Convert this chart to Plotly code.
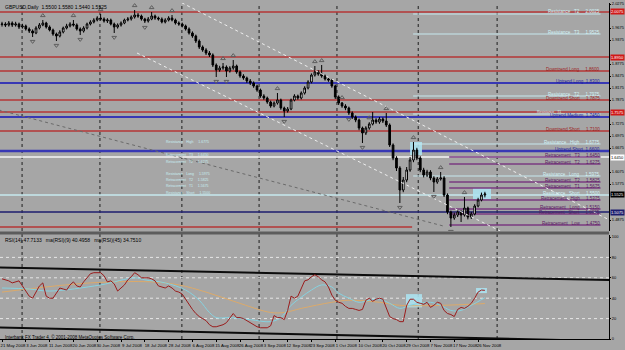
import plotly.graph_objects as go

# ---------------- data ----------------
date_labels = ["21 May 2008", "3 Jun 2008", "11 Jun 2008", "20 Jun 2008", "30 Jun 2008",
               "9 Jul 2008", "18 Jul 2008", "28 Jul 2008", "6 Aug 2008", "15 Aug 2008",
               "26 Aug 2008", "3 Sep 2008", "12 Sep 2008", "23 Sep 2008", "1 Oct 2008",
               "10 Oct 2008", "20 Oct 2008", "29 Oct 2008", "7 Nov 2008", "17 Nov 2008",
               "26 Nov 2008"]
date_bars = [0, 7, 14, 21, 28, 35, 42, 49, 56, 63, 70, 77, 84, 91, 98, 105, 112, 119, 126, 133, 140]

open_ = [1.9760,1.9775,1.9750,1.9800,1.9750,1.9775,1.9700,1.9725,1.9650,1.9600,
         1.9550,1.9675,1.9750,1.9800,1.9700,1.9625,1.9525,1.9475,1.9575,1.9675,
         1.9725,1.9775,1.9750,1.9650,1.9600,1.9675,1.9775,1.9825,1.9875,1.9925,
         1.9900,1.9850,1.9875,1.9775,1.9700,1.9750,1.9800,1.9875,1.9900,1.9950,
         2.0000,1.9975,1.9900,1.9850,1.9900,1.9975,1.9925,1.9900,1.9825,1.9875,
         1.9925,1.9875,1.9800,1.9775,1.9725,1.9650,1.9550,1.9475,1.9350,1.9200,
         1.9125,1.9050,1.9000,1.8750,1.8625,1.8675,1.8700,1.8600,1.8675,1.8725,
         1.8575,1.8475,1.8425,1.8350,1.8300,1.8225,1.8125,1.7975,1.7925,1.7825,
         1.7725,1.7800,1.7875,1.7675,1.7600,1.7650,1.7875,1.7975,1.7925,1.8050,
         1.8175,1.8325,1.8500,1.8575,1.8525,1.8475,1.8400,1.8375,1.8225,1.7950,
         1.7800,1.7725,1.7675,1.7550,1.7450,1.7375,1.7175,1.7050,1.7175,1.7275,
         1.7375,1.7325,1.7400,1.7350,1.7250,1.6750,1.6425,1.6175,1.5625,1.5875,
         1.6125,1.6375,1.6625,1.6425,1.6125,1.6000,1.6075,1.5925,1.5825,1.5900,
         1.5925,1.5500,1.5075,1.4925,1.5000,1.5075,1.5000,1.5175,1.4950,1.5025,
         1.5225,1.5375,1.5500]
high = [1.9830,1.9820,1.9850,1.9840,1.9830,1.9810,1.9780,1.9760,1.9690,1.9640,
        1.9720,1.9800,1.9875,1.9830,1.9740,1.9660,1.9560,1.9620,1.9710,1.9780,
        1.9820,1.9875,1.9790,1.9690,1.9720,1.9810,1.9870,1.9920,1.9970,2.0025,
        1.9940,1.9920,1.9910,1.9810,1.9790,1.9840,1.9910,1.9950,1.9990,2.0125,
        2.0050,2.0010,1.9930,1.9950,2.0075,2.0010,1.9960,1.9940,1.9920,1.9970,
        2.0000,1.9910,1.9840,1.9810,1.9760,1.9690,1.9590,1.9510,1.9390,1.9240,
        1.9170,1.9100,1.9040,1.8790,1.8730,1.8800,1.8740,1.8720,1.8875,1.8760,
        1.8610,1.8520,1.8460,1.8400,1.8340,1.8260,1.8160,1.8020,1.7960,1.7860,
        1.7840,1.8050,1.7910,1.7710,1.7700,1.7910,1.8020,1.8010,1.8090,1.8220,
        1.8370,1.8540,1.8725,1.8620,1.8750,1.8510,1.8440,1.8410,1.8260,1.7990,
        1.7825,1.7770,1.7710,1.7590,1.7490,1.7410,1.7210,1.7220,1.7320,1.7575,
        1.7420,1.7450,1.7440,1.7550,1.7290,1.6790,1.6470,1.6220,1.5950,1.6200,
        1.6450,1.6825,1.6680,1.6470,1.6180,1.6130,1.6120,1.5970,1.5950,1.6075,
        1.5970,1.5540,1.5110,1.5060,1.5130,1.5120,1.5450,1.5210,1.5080,1.5270,
        1.5430,1.5560,1.5580]
low = [1.9710,1.9700,1.9710,1.9700,1.9710,1.9650,1.9660,1.9610,1.9550,1.9450,
       1.9520,1.9640,1.9720,1.9660,1.9590,1.9480,1.9350,1.9440,1.9540,1.9640,
       1.9690,1.9710,1.9610,1.9500,1.9560,1.9640,1.9740,1.9790,1.9840,1.9860,
       1.9810,1.9800,1.9740,1.9550,1.9660,1.9710,1.9770,1.9840,1.9860,1.9910,
       1.9930,1.9860,1.9800,1.9810,1.9870,1.9880,1.9860,1.9790,1.9790,1.9840,
       1.9840,1.9760,1.9730,1.9690,1.9610,1.9510,1.9430,1.9300,1.9150,1.9080,
       1.9000,1.8950,1.8700,1.8450,1.8580,1.8630,1.8450,1.8560,1.8630,1.8530,
       1.8430,1.8380,1.8300,1.8250,1.8180,1.8080,1.7930,1.7880,1.7780,1.7680,
       1.7690,1.7760,1.7630,1.7450,1.7560,1.7620,1.7840,1.7880,1.7890,1.8010,
       1.8140,1.8290,1.8460,1.8480,1.8430,1.8360,1.8330,1.8180,1.7900,1.7750,
       1.7680,1.7620,1.7500,1.7400,1.7320,1.7120,1.6800,1.7000,1.7130,1.7240,
       1.7280,1.7280,1.7300,1.7200,1.6700,1.6370,1.6100,1.5300,1.5570,1.5820,
       1.6080,1.6320,1.6370,1.6070,1.5940,1.5950,1.5870,1.5575,1.5780,1.5860,
       1.5450,1.5020,1.4700,1.4880,1.4950,1.4825,1.4960,1.4890,1.4900,1.4990,
       1.5190,1.5340,1.5440]
close = [1.9775,1.9750,1.9800,1.9750,1.9775,1.9700,1.9725,1.9650,1.9600,1.9550,
         1.9675,1.9750,1.9800,1.9700,1.9625,1.9525,1.9475,1.9575,1.9675,1.9725,
         1.9775,1.9750,1.9650,1.9600,1.9675,1.9775,1.9825,1.9875,1.9925,1.9900,
         1.9850,1.9875,1.9775,1.9700,1.9750,1.9800,1.9875,1.9900,1.9950,2.0000,
         1.9975,1.9900,1.9850,1.9900,1.9975,1.9925,1.9900,1.9825,1.9875,1.9925,
         1.9875,1.9800,1.9775,1.9725,1.9650,1.9550,1.9475,1.9350,1.9200,1.9125,
         1.9050,1.9000,1.8750,1.8625,1.8675,1.8700,1.8600,1.8675,1.8725,1.8575,
         1.8475,1.8425,1.8350,1.8300,1.8225,1.8125,1.7975,1.7925,1.7825,1.7725,
         1.7800,1.7875,1.7675,1.7600,1.7650,1.7875,1.7975,1.7925,1.8050,1.8175,
         1.8325,1.8500,1.8575,1.8525,1.8475,1.8400,1.8375,1.8225,1.7950,1.7800,
         1.7725,1.7675,1.7550,1.7450,1.7375,1.7175,1.7050,1.7175,1.7275,1.7375,
         1.7325,1.7400,1.7350,1.7250,1.6750,1.6425,1.6175,1.5625,1.5875,1.6125,
         1.6375,1.6625,1.6425,1.6125,1.6000,1.6075,1.5925,1.5825,1.5900,1.5925,
         1.5500,1.5075,1.4925,1.5000,1.5075,1.5000,1.5175,1.4950,1.5025,1.5225,
         1.5375,1.5500,1.5525]

frac_up = [12, 21, 29, 39, 44, 50, 65, 68, 81, 92, 94, 100, 108, 113, 121, 129, 136]
frac_dn = [9, 16, 23, 33, 42, 63, 66, 83, 102, 106, 117, 127, 132]

rsi = [59,58,57,55,56,57,52,47,42,40,
       46,52,55,42,40,40,45,50,49,48,
       53,56,52,51,56,60,64,65,65,65,
       62,56,57,54,47,50,53,58,61,65,
       63,60,60,60,59,57,52,51,50,52,
       50,47,46,44,39,33,29,25,22,20,
       18,14,12,12,13,14,16,21,25,21,
       21,20,18,16,14,12,11,11,11,13,
       23,21,21,19,28,42,40,42,50,57,
       58,61,63,61,58,56,51,43,38,36,
       35,32,30,30,29,28,29,38,40,37,
       39,40,39,30,22,20,19,17,17,33,
       39,39,36,35,34,36,31,33,36,35,
       28,25,24,22,29,31,30,32,35,40,
       46,48,47.7133]
ma_fast_bars = [0, 8, 14, 29, 39, 42, 48, 54, 58, 61, 63, 67, 73, 79, 82, 85, 88, 91, 94, 97,
                99, 102, 105, 108, 111, 114, 117, 120, 123, 126, 129, 132, 135, 138, 142]
ma_fast_vals = [50, 49, 47, 53, 60, 58, 55, 48, 38, 26, 21, 21, 19, 17, 21, 33, 41, 48, 53, 51,
                45, 40, 36, 38, 39, 35, 30, 33, 35, 36, 33, 28, 28, 33, 40.4958]
ma_slow_bars = [0, 26, 44, 52, 60, 69, 79, 83, 88, 97, 102, 111, 117, 129, 142]
ma_slow_vals = [46, 55, 56, 53, 46, 36, 26, 26, 30, 36, 38, 36, 33, 33, 34.7510]

# horizontal objects on the price chart
red_box_levels = [2.0075, 1.8950, 1.7575]
white_level = 1.6450
navy_level = 1.5075
red_low_level = 1.4700
down_names = ["Downtrend Long", "Downtrend Short", "Downtrend Short"]
down_levels = [1.8600, 1.7875, 1.7100]
up_names = ["Uptrend Long", "Uptrend Medium", "Uptrend Short"]
up_levels = [1.8300, 1.7450, 1.6600]
res_names = ["Resistance   T2", "Resistance   T3", "Resistance   T2", "Resistance   T1",
             "Resistance   High", "Resistance   Long", "Resistance   Short"]
res_levels = [2.0025, 1.9525, 1.7975, 1.7525, 1.6775, 1.5975, 1.5500]
retr_names = ["Retracement   T3", "Retracement   T2", "Retracement   T2", "Retracement   T1",
              "Retracement   High", "Retracement   Long", "Retracement   Short", "Retracement   Low"]
retr_levels = [1.6450, 1.6275, 1.5825, 1.5675, 1.5375, 1.5150, 1.5025, 1.4750]

price_ticks = [2.0275, 1.9675, 1.9375, 1.8775, 1.8475, 1.8175, 1.7875, 1.7275, 1.6975,
               1.6675, 1.6075, 1.5775, 1.4875]
rsi_ticks = [0, 20, 40, 60, 80, 100]

# diagonal channel lines (bar, price) pairs
chan_a = ([45, 180], [2.0645, 1.4816])
chan_b = ([39.7, 146.5], [1.9050, 1.4602])
chan_c = ([-1, 130], [1.7627, 1.4720])
rsi_top = ([-5, 185], [70.3, 57.4])
rsi_bot = ([-5, 185], [11.5, -2.5])

# highlight boxes (bar range, value range)
box_price = [([120, 123.5], [1.6500, 1.6825]), ([138.5, 143.8], [1.5400, 1.5675])]
box_rsi = [([118.8, 123.5], [31, 44]), ([139.4, 142.6], [45, 50])]

grid_bars = [5.9, 28.8, 52.9, 75.6, 98.5, 122.4, 145.6]

# ---------------- layout constants ----------------
W, H = 625, 350
AX_R = 609 / W
MAIN_DOM = [1 - 231 / H, 1 - 3 / H]
RSI_DOM = [1 - 339 / H, 1 - 235 / H]
XR = [-0.59, 178.5]
BG = "#a6a6a6"
RED = "#b43636"
BLUE = "#3838b4"
NAVY = "#1c1c6e"
CYAN = "#c6e8ee"
PURPLE = "#7a3a80"
FONT = "Liberation Sans"
LBL = 4.5
AXF = 4

fig = go.Figure()
bars = list(range(len(close)))

# highlight boxes
for xs, ys in box_price:
    fig.add_shape(type="rect", xref="x", yref="y", x0=xs[0], x1=xs[1], y0=ys[0], y1=ys[1],
                  fillcolor="rgba(172,226,240,0.9)", line=dict(width=0), layer="below")
for xs, ys in box_rsi:
    fig.add_shape(type="rect", xref="x", yref="y2", x0=xs[0], x1=xs[1], y0=ys[0], y1=ys[1],
                  fillcolor="rgba(172,226,240,0.9)", line=dict(width=0), layer="below")

# vertical dotted grid
for g in grid_bars:
    fig.add_shape(type="line", xref="x", yref="paper", x0=g, x1=g, y0=RSI_DOM[0], y1=MAIN_DOM[1],
                  line=dict(color="#1e1e1e", width=1, dash="dot"), layer="below")

# RSI dotted levels
for lv in [20, 40, 60, 80]:
    fig.add_shape(type="line", xref="x domain", yref="y2", x0=0, x1=1, y0=lv, y1=lv,
                  line=dict(color="#e6e6e6", width=1, dash="dot"), layer="below")

def hline(level, color, width, x0=None, x1=None, dash="solid"):
    if x0 is None:
        fig.add_shape(type="line", xref="x domain", yref="y", x0=0, x1=1, y0=level, y1=level,
                      line=dict(color=color, width=width, dash=dash), layer="below")
    else:
        fig.add_shape(type="line", xref="x", yref="y", x0=x0, x1=x1, y0=level, y1=level,
                      line=dict(color=color, width=width, dash=dash), layer="below")

def label(text, level, color, x=176.5, size=LBL):
    fig.add_annotation(x=x, y=level, xref="x", yref="y", text=text, showarrow=False,
                       xanchor="right", yanchor="middle", yshift=2,
                       font=dict(size=size, color=color, family=FONT))

def left_label(text, level):
    fig.add_annotation(x=47.5, y=level, xref="x", yref="y", text=text,
                       showarrow=False, xanchor="left", yanchor="middle", yshift=2,
                       font=dict(size=3.5, color="#c8eef2", family=FONT))

for lv in red_box_levels:
    hline(lv, RED, 1.5)
hline(white_level, "#f4f4f4", 1.5)
hline(navy_level, NAVY, 1.5)
hline(red_low_level, RED, 1.5, -1, 120.6)
for nm, lv in zip(down_names, down_levels):
    hline(lv, RED, 1.5)
    label(f"{nm}     {lv:.4f}", lv, "#9c1e1e")
for i, (nm, lv) in enumerate(zip(up_names, up_levels)):
    hline(lv, BLUE, 2.5 if i == 2 else 1.8)
    label(f"{nm}  {lv:.4f}", lv, "#1e1e9c")
for i, (nm, lv) in enumerate(zip(res_names, res_levels)):
    if i == len(res_levels) - 1:
        hline(lv, CYAN, 1.5)
    else:
        hline(lv, CYAN, 1.2, 120.9, 176.0)
    if i == 3:
        label(f"{nm}", lv, "#d2f2f6", x=165, size=3.5)
    else:
        label(f"{nm}     {lv:.4f}", lv, "#d2f2f6")
    if 1.54 < lv < 1.69:
        left_label(f"{nm}     {lv:.4f}", lv)
for nm, lv in zip(retr_names, retr_levels):
    hline(lv, PURPLE, 1.5, 131.5, 176.0)
    label(f"{nm}     {lv:.4f}", lv, "#5a1a62")
    if 1.54 < lv < 1.69:
        left_label(f"{nm}     {lv:.4f}", lv)

# channel lines
for (xs, ys), col in [(chan_a, "#eeeeee"), (chan_b, "#eeeeee"), (chan_c, "#6a6a6a")]:
    fig.add_trace(go.Scatter(x=xs, y=ys, mode="lines", xaxis="x", yaxis="y",
                             line=dict(color=col, width=1, dash="dot"), hoverinfo="skip",
                             showlegend=False))

# candles
fig.add_trace(go.Candlestick(
    x=bars, open=open_, high=high, low=low, close=close, xaxis="x", yaxis="y",
    increasing=dict(line=dict(color="black", width=1), fillcolor="white"),
    decreasing=dict(line=dict(color="black", width=1), fillcolor="black"),
    whiskerwidth=0, showlegend=False, hoverinfo="skip"))

# fractal marks
fig.add_trace(go.Scatter(x=frac_up, y=[high[i] + 0.011 for i in frac_up], mode="markers",
                         xaxis="x", yaxis="y", showlegend=False, hoverinfo="skip",
                         marker=dict(symbol="triangle-up-open", size=4, color="#5e5e5e",
                                     line=dict(width=1, color="#5e5e5e"))))
fig.add_trace(go.Scatter(x=frac_dn, y=[low[i] - 0.011 for i in frac_dn], mode="markers",
                         xaxis="x", yaxis="y", showlegend=False, hoverinfo="skip",
                         marker=dict(symbol="triangle-down-open", size=4, color="#5e5e5e",
                                     line=dict(width=1, color="#5e5e5e"))))

# RSI pane
for (xs, ys) in [rsi_top, rsi_bot]:
    fig.add_trace(go.Scatter(x=xs, y=ys, mode="lines", xaxis="x", yaxis="y2",
                             line=dict(color="#0c0c0c", width=2), hoverinfo="skip",
                             showlegend=False))
fig.add_trace(go.Scatter(x=ma_slow_bars, y=ma_slow_vals, mode="lines", xaxis="x", yaxis="y2",
                         line=dict(color="#dcaa6a", width=1, shape="spline"), showlegend=False,
                         hoverinfo="skip"))
fig.add_trace(go.Scatter(x=ma_fast_bars, y=ma_fast_vals, mode="lines", xaxis="x", yaxis="y2",
                         line=dict(color="#86d2e0", width=1, shape="spline"), showlegend=False,
                         hoverinfo="skip"))
fig.add_trace(go.Scatter(x=bars, y=rsi, mode="lines", xaxis="x", yaxis="y2",
                         line=dict(color="#9a1c1c", width=1), showlegend=False,
                         hoverinfo="skip"))

# pane separator
fig.add_shape(type="rect", xref="paper", yref="paper", x0=0, x1=AX_R,
              y0=1 - 234.5 / H, y1=1 - 231.5 / H, fillcolor="#5c5c5c", line=dict(width=0))

# axis price boxes
def pbox(level, bg, fg):
    fig.add_annotation(x=AX_R + 0.002, y=level, xref="paper", yref="y", text=f"{level:.4f}",
                       showarrow=False, xanchor="left", yanchor="middle", bgcolor=bg,
                       borderpad=0, font=dict(size=AXF, color=fg, family=FONT))

for lv in red_box_levels:
    pbox(lv, "#d01818", "white")
pbox(white_level, "white", "black")
pbox(close[-1], "black", "white")
pbox(navy_level, NAVY, "white")

# texts
fig.add_annotation(x=0.004, y=1 - 1.5 / H, xref="paper", yref="paper", xanchor="left",
                   yanchor="top", showarrow=False,
                   text=f"GBPUSD,Daily  {open_[-1]:.4f} {high[-1]:.4f} {low[-1]:.4f} {close[-1]:.4f}",
                   font=dict(size=5, color="black", family=FONT))
fig.add_annotation(x=0.004, y=1 - 235 / H, xref="paper", yref="paper", xanchor="left",
                   yanchor="top", showarrow=False,
                   text=f"RSI(14) {rsi[-1]:.4f}   ma(RSI)(9) {ma_fast_vals[-1]:.4f}   ma(RSI)(45) {ma_slow_vals[-1]:.4f}",
                   font=dict(size=5, color="black", family=FONT))
fig.add_annotation(x=0.004, y=1 - 341.5 / H, xref="paper", yref="paper", xanchor="left",
                   yanchor="bottom", showarrow=False,
                   text="Interbank FX Trader 4, \u00a9 2001-2008 MetaQuotes Software Corp.",
                   font=dict(size=4.5, color="black", family=FONT))

fig.update_layout(
    width=W, height=H, margin=dict(l=0, r=0, t=0, b=0, autoexpand=False),
    paper_bgcolor=BG, plot_bgcolor=BG, showlegend=False,
    font=dict(family=FONT, size=6, color="black"),
    xaxis=dict(domain=[0, AX_R], range=XR, anchor="y2", rangeslider=dict(visible=False),
               showgrid=False, zeroline=False, showline=True, linecolor="black", linewidth=1,
               tickvals=date_bars, ticktext=date_labels, ticks="outside", ticklen=2,
               tickangle=0, automargin=False, tickcolor="black", tickfont=dict(size=4.3),
               ticklabelshift=11, ticklabelstandoff=0, fixedrange=True),
    yaxis=dict(domain=MAIN_DOM, range=[1.4600, 2.0300], anchor="x", side="right",
               showgrid=False, zeroline=False, showline=True, linecolor="black",
               tickvals=price_ticks, tickformat=".4f", ticks="outside", ticklen=1,
               ticklabelstandoff=0, automargin=False, tickcolor="black",
               tickfont=dict(size=AXF)),
    yaxis2=dict(domain=RSI_DOM, range=[0, 101.96], anchor="x", side="right",
                showgrid=False, zeroline=False, showline=True, linecolor="black",
                tickvals=rsi_ticks, ticks="outside", ticklen=1, ticklabelstandoff=0,
                automargin=False, tickcolor="black", tickfont=dict(size=AXF)),
)

fig.write_html("out.html")
